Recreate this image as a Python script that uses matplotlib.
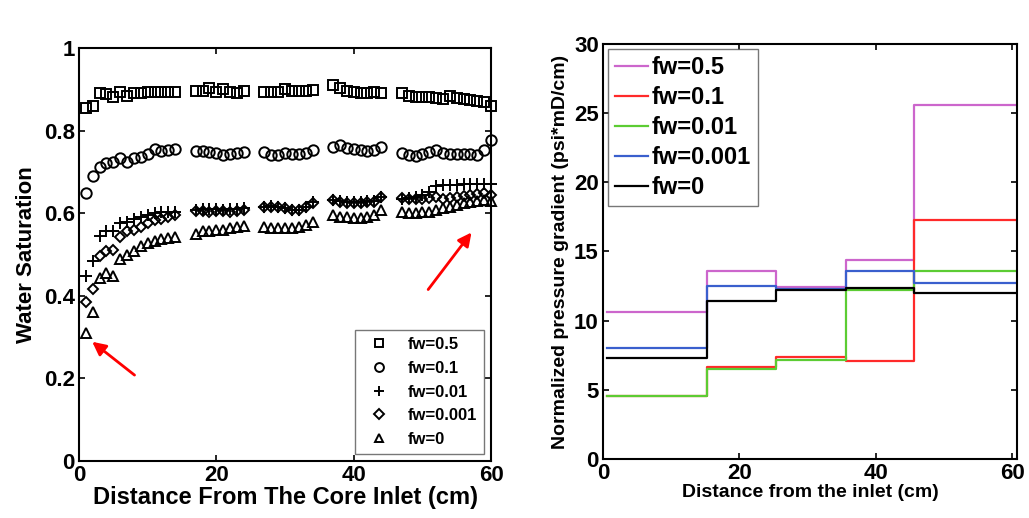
import numpy as np
import matplotlib.pyplot as plt

plt.rcParams['font.family'] = ['Liberation Sans', 'DejaVu Sans']
plt.rcParams['font.weight'] = 'bold'
plt.rcParams['axes.labelweight'] = 'bold'

# ---- left panel: water saturation profiles ----
dist = [1, 2, 3, 4, 5, 6, 7, 8, 9, 10, 11, 12, 13, 14,
        17, 18, 19, 20, 21, 22, 23, 24,
        27, 28, 29, 30, 31, 32, 33, 34,
        37, 38, 39, 40, 41, 42, 43, 44,
        47, 48, 49, 50, 51, 52, 53, 54, 55, 56, 57, 58, 59, 60]

sw_05 = [0.855, 0.859, 0.891, 0.889, 0.881, 0.893, 0.885, 0.891, 0.891, 0.893, 0.893, 0.893, 0.895, 0.895,
         0.897, 0.897, 0.903, 0.893, 0.901, 0.893, 0.891, 0.897,
         0.895, 0.893, 0.893, 0.901, 0.897, 0.897, 0.897, 0.899,
         0.911, 0.903, 0.897, 0.895, 0.891, 0.891, 0.893, 0.891,
         0.891, 0.885, 0.882, 0.882, 0.882, 0.879, 0.877, 0.885, 0.879, 0.877, 0.875, 0.871, 0.869, 0.861]
sw_01 = [0.650, 0.690, 0.713, 0.721, 0.725, 0.733, 0.725, 0.733, 0.737, 0.744, 0.755, 0.751, 0.753, 0.755,
         0.751, 0.751, 0.749, 0.745, 0.741, 0.743, 0.747, 0.749,
         0.749, 0.741, 0.741, 0.745, 0.744, 0.744, 0.745, 0.753,
         0.760, 0.765, 0.757, 0.755, 0.753, 0.751, 0.753, 0.760,
         0.747, 0.741, 0.739, 0.744, 0.749, 0.753, 0.745, 0.744, 0.744, 0.744, 0.744, 0.741, 0.753, 0.778]
sw_001 = [0.447, 0.485, 0.546, 0.558, 0.556, 0.576, 0.580, 0.586, 0.592, 0.597, 0.601, 0.603, 0.604, 0.604,
          0.608, 0.610, 0.610, 0.610, 0.608, 0.610, 0.610, 0.612,
          0.615, 0.617, 0.615, 0.613, 0.609, 0.609, 0.615, 0.627,
          0.633, 0.629, 0.627, 0.627, 0.627, 0.629, 0.629, 0.640,
          0.634, 0.636, 0.640, 0.645, 0.652, 0.667, 0.668, 0.668, 0.669, 0.670, 0.670, 0.671, 0.671, 0.672]
sw_0001 = [0.384, 0.417, 0.497, 0.509, 0.511, 0.542, 0.556, 0.560, 0.568, 0.576, 0.583, 0.587, 0.590, 0.595,
           0.606, 0.606, 0.604, 0.606, 0.606, 0.604, 0.606, 0.608,
           0.615, 0.616, 0.615, 0.612, 0.608, 0.608, 0.615, 0.626,
           0.632, 0.628, 0.626, 0.626, 0.626, 0.628, 0.628, 0.639,
           0.637, 0.634, 0.634, 0.634, 0.637, 0.639, 0.634, 0.637, 0.639, 0.642, 0.644, 0.646, 0.649, 0.644]
sw_0 = [0.311, 0.360, 0.443, 0.455, 0.448, 0.489, 0.499, 0.509, 0.521, 0.527, 0.534, 0.537, 0.540, 0.542,
        0.550, 0.556, 0.558, 0.560, 0.560, 0.564, 0.568, 0.570,
        0.568, 0.564, 0.564, 0.564, 0.564, 0.568, 0.572, 0.580,
        0.596, 0.592, 0.591, 0.588, 0.588, 0.592, 0.596, 0.607,
        0.602, 0.600, 0.600, 0.602, 0.604, 0.608, 0.612, 0.616, 0.620, 0.624, 0.628, 0.630, 0.632, 0.630]

# ---- right panel: normalized pressure gradient per section ----
edges = [0.6, 15.2, 25.3, 35.6, 45.6, 60.7]
pg_05 = [10.65, 13.6, 12.46, 14.37, 25.6]
pg_01 = [4.56, 6.67, 7.35, 7.11, 17.28]
pg_001 = [4.56, 6.49, 7.14, 12.2, 13.6]
pg_0001 = [8.05, 12.5, 12.3, 13.6, 12.7]
pg_0 = [7.28, 11.45, 12.22, 12.34, 11.98]

fig = plt.figure(figsize=(10.29, 5.18), dpi=100)
ax1 = fig.add_axes([0.0768, 0.110, 0.4004, 0.797])
ax2 = fig.add_axes([0.586, 0.114, 0.4023, 0.801])

mk = dict(linestyle='none', mfc='none', mec='black', mew=1.4, clip_on=False)
ax1.plot(dist, sw_05, marker='s', ms=6.5, label='fw=0.5', **mk)
ax1.plot(dist, sw_01, marker='o', ms=7.5, label='fw=0.1', **mk)
ax1.plot(dist, sw_001, marker='+', ms=8, label='fw=0.01', **mk)
ax1.plot(dist, sw_0001, marker='D', ms=5.5, label='fw=0.001', **mk)
ax1.plot(dist, sw_0, marker='^', ms=7.5, label='fw=0', **mk)

ax1.annotate('', xy=(1.6, 0.293), xytext=(8.4, 0.204),
             arrowprops=dict(arrowstyle='-|>', color='red', lw=2, mutation_scale=20))
ax1.annotate('', xy=(57.4, 0.559), xytext=(50.6, 0.41),
             arrowprops=dict(arrowstyle='-|>', color='red', lw=2, mutation_scale=20))

ax1.set_xlim(0, 60)
ax1.set_ylim(0, 1)
ax1.set_xticks([0, 20, 40, 60])
ax1.set_yticks([0, 0.2, 0.4, 0.6, 0.8, 1])
ax1.set_yticklabels(['0', '0.2', '0.4', '0.6', '0.8', '1'])
ax1.set_xlabel('Distance From The Core Inlet (cm)', fontsize=17, labelpad=0)
ax1.set_ylabel('Water Saturation', fontsize=16, labelpad=5)
leg1 = ax1.legend(loc='lower right', fontsize=12, frameon=True, fancybox=False,
                  edgecolor='#555555', handletextpad=0.7, borderaxespad=0.4,
                  labelspacing=0.52, borderpad=0.45, markerscale=0.85)
leg1.get_frame().set_linewidth(1.0)

cols = ['#cc66cc', '#ff2a2a', '#5ccc33', '#3a5fcd', 'black']
labels = ['fw=0.5', 'fw=0.1', 'fw=0.01', 'fw=0.001', 'fw=0']
for vals, c, lab in zip([pg_05, pg_01, pg_001, pg_0001, pg_0], cols, labels):
    ax2.step(edges, vals + [vals[-1]], where='post', color=c, lw=1.6, label=lab)

ax2.set_xlim(0, 60.7)
ax2.set_ylim(0, 30)
ax2.set_xticks([0, 20, 40, 60])
ax2.set_yticks([0, 5, 10, 15, 20, 25, 30])
ax2.set_xlabel('Distance from the inlet (cm)', fontsize=14, labelpad=0)
ax2.set_ylabel('Normalized pressure gradient (psi*mD/cm)', fontsize=14, labelpad=4)
leg2 = ax2.legend(loc='upper left', fontsize=17, frameon=True, fancybox=False,
                  edgecolor='#555555', handlelength=1.4, handletextpad=0.15,
                  borderaxespad=0.2, labelspacing=0.3, borderpad=0.3)
leg2.get_frame().set_linewidth(1.0)

for ax in (ax1, ax2):
    ax.tick_params(direction='in', top=True, right=True, labelsize=16, width=1.2, length=4, pad=3)
    for s in ax.spines.values():
        s.set_linewidth(1.5)

fig.savefig('out.png', dpi=100)
